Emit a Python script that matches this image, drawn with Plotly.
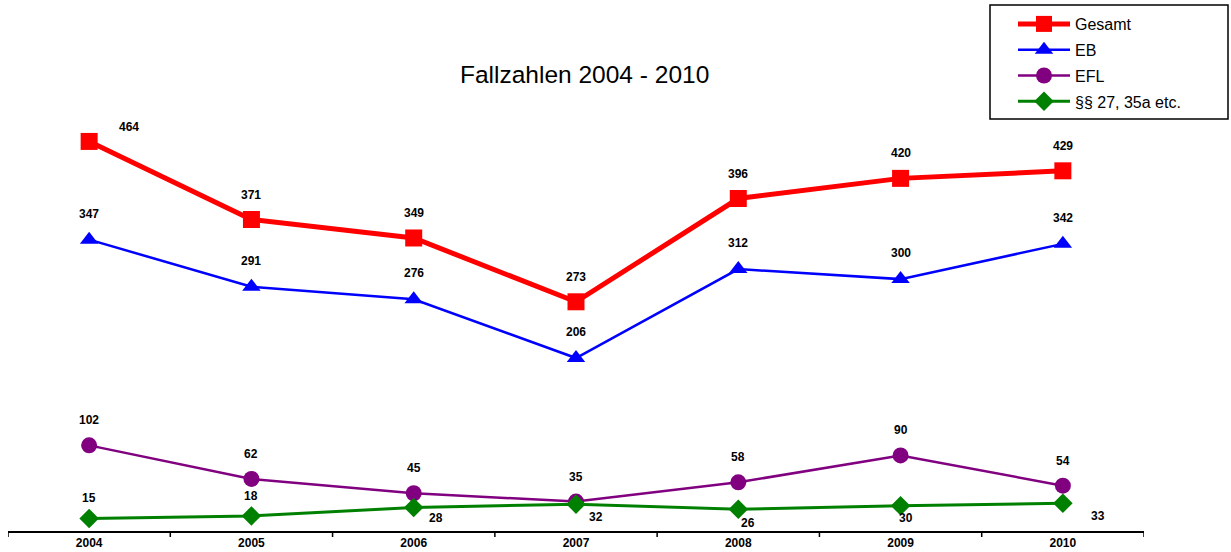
import plotly.graph_objects as go

years = ["2004", "2005", "2006", "2007", "2008", "2009", "2010"]
gesamt = [464, 371, 349, 273, 396, 420, 429]
eb = [347, 291, 276, 206, 312, 300, 342]
efl = [102, 62, 45, 35, 58, 90, 54]
para = [15, 18, 28, 32, 26, 30, 33]

series = [
    ("Gesamt", gesamt, "#FF0000", 5, "square", 17),
    ("EB", eb, "#0000FF", 2.5, "triangle-up", 16),
    ("EFL", efl, "#800080", 2.5, "circle", 16),
    ("§§ 27, 35a etc.", para, "#008000", 3, "diamond", 15),
]

# label offsets (px) per series per point
offsets = {
    "Gesamt": [(40, 14)] + [(0, 25)] * 6,
    "EB": [(0, 26)] * 7,
    "EFL": [(0, 25)] * 7,
    "§§ 27, 35a etc.": [(0, 20), (0, 20), (22, -11), (20, -13), (10, -14), (5, -12), (35, -13)],
}

W, H = 1231, 552
L, R, T, B = 8, W - 1144, 50, H - 531
PW, PH = W - L - R, H - T - B


def px(xr):
    return (xr - L) / PW


def py(yr):
    return (H - B - yr) / PH


fig = go.Figure()
for name, vals, color, lw, sym, ms in series:
    fig.add_trace(go.Scatter(
        x=list(range(len(years))), y=vals, name=name, mode="lines+markers",
        legendgroup=name,
        line=dict(color=color, width=lw),
        marker=dict(symbol=sym, size=ms, color=color),
    ))
    for i, yv in enumerate(vals):
        dx, dy = offsets[name][i]
        fig.add_annotation(x=i, y=yv, text=f"<b>{yv}</b>", showarrow=False,
                           xshift=dx, yshift=dy,
                           font=dict(family="Liberation Sans, Arial", size=12, color="black"))

fig.add_annotation(text="Fallzahlen 2004 - 2010", xref="paper", yref="paper",
                   x=px(584), y=py(75), showarrow=False,
                   xanchor="center", yanchor="middle",
                   font=dict(family="Liberation Sans, Arial", size=24.5, color="black"))

# legend frame
fig.add_shape(type="rect", xref="paper", yref="paper",
              x0=px(990), x1=px(1228), y0=py(119), y1=py(5),
              line=dict(color="black", width=1.5), fillcolor="white", layer="below")

fig.update_layout(
    width=W, height=H,
    margin=dict(l=L, r=R, t=T, b=B, pad=0, autoexpand=False),
    plot_bgcolor="white", paper_bgcolor="white",
    showlegend=True,
    legend=dict(xref="container", yref="container",
                x=1013 / W, y=1 - 7 / H,
                xanchor="left", yanchor="top",
                borderwidth=0, bgcolor="rgba(0,0,0,0)",
                font=dict(family="Liberation Sans, Arial", size=16, color="black"),
                tracegroupgap=2, itemwidth=52),
    xaxis=dict(tickmode="array", tickvals=list(range(len(years))),
               ticktext=[f"<b>{y}</b>" for y in years],
               range=[-0.5, len(years) - 0.5], showgrid=False, zeroline=False,
               showline=True, linecolor="black", linewidth=1.5,
               ticks="",
               tickfont=dict(family="Liberation Sans, Arial", size=12, color="black")),
    yaxis=dict(range=[0, PH / 0.8396], visible=False, showgrid=False, zeroline=False),
)

# boundary ticks
for b in range(len(years) + 1):
    fig.add_shape(type="line", xref="x", yref="paper", x0=b - 0.5, x1=b - 0.5,
                  y0=0, y1=-6 / PH, line=dict(color="black", width=1.5))

fig.write_html("out.html", config={"displayModeBar": False},
               post_script="document.body.style.margin='0';document.body.style.overflow='hidden';")
